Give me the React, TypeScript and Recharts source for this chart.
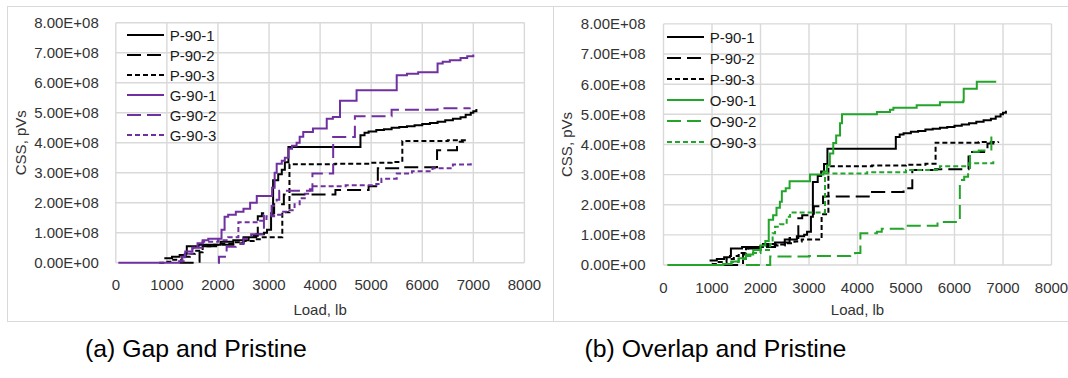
import React from "react";
import { LineChart, Line, XAxis, YAxis, CartesianGrid, Legend, Label } from "recharts";

// [load (lb), CSS (x1E+08 pVs)] step points
const P_90_1: [number, number][] = [
  [950, 0.15], [1100, 0.2], [1250, 0.26], [1370, 0.3], [1390, 0.55], [1620, 0.6], [2050, 0.7],
  [2300, 0.75], [2500, 0.85], [2750, 0.95], [2900, 1.0], [2960, 1.1], [3040, 1.6], [3080, 2.75],
  [3180, 2.95], [3250, 3.1], [3310, 3.35], [3380, 3.86], [4790, 4.25], [4870, 4.33], [4950, 4.37],
  [5100, 4.42], [5250, 4.45], [5400, 4.5], [5550, 4.52], [5700, 4.55], [5850, 4.58], [6000, 4.62],
  [6150, 4.66], [6300, 4.7], [6450, 4.75], [6600, 4.8], [6750, 4.85], [6850, 4.93], [6950, 5.0],
  [7000, 5.05], [7060, 5.12],
];
const P_90_2: [number, number][] = [
  [1250, 0], [1600, 0.03], [1640, 0.35], [1700, 0.55], [2000, 0.6], [2300, 0.65], [2500, 0.75],
  [2600, 0.9], [2780, 1.55], [2860, 1.65], [3100, 1.95], [3290, 2.27], [4300, 2.42], [4950, 2.55],
  [5130, 3.15], [5600, 3.18], [6290, 3.75], [6680, 4.03], [6800, 4.05],
];
const P_90_3: [number, number][] = [
  [850, 0], [950, 0.03], [1100, 0.1], [1300, 0.2], [1450, 0.3], [1550, 0.4], [1700, 0.55],
  [1850, 0.6], [2000, 0.63], [2300, 0.68], [2500, 0.72], [2700, 0.78], [2850, 0.85], [3260, 1.68],
  [3400, 3.28], [4300, 3.3], [5000, 3.33], [5400, 3.36], [5610, 4.06], [6500, 4.08], [6900, 4.1],
];
const G_90_1: [number, number][] = [
  [50, 0], [1240, 0.05], [1300, 0.2], [1360, 0.37], [1500, 0.5], [1600, 0.65], [1700, 0.75],
  [1810, 0.8], [2070, 1.1], [2130, 1.53], [2200, 1.6], [2350, 1.7], [2500, 1.8], [2630, 2.0],
  [2760, 2.22], [3060, 2.5], [3110, 3.0], [3150, 3.3], [3250, 3.4], [3310, 3.5], [3380, 3.8],
  [3450, 3.9], [3540, 4.0], [3600, 4.2], [3670, 4.36], [3860, 4.47], [4130, 4.8], [4250, 4.86],
  [4390, 5.4], [4714, 5.75], [5500, 6.25], [5700, 6.3], [5920, 6.35], [6300, 6.64], [6400, 6.7],
  [6540, 6.75], [6750, 6.82], [6880, 6.88], [7000, 6.94],
];
const G_90_2: [number, number][] = [
  [2000, 0], [2020, 0.2], [2170, 0.53], [2350, 0.62], [2500, 0.8], [2650, 0.95], [2900, 1.6],
  [3050, 1.9], [3150, 2.1], [3200, 2.4], [3850, 2.97], [4256, 4.19], [4681, 4.88], [5400, 5.1],
  [6300, 5.15], [6930, 5.17],
];
const G_90_3: [number, number][] = [
  [1250, 0.05], [1350, 0.3], [1500, 0.5], [1700, 0.7], [2000, 0.75], [2200, 0.85], [2400, 1.35],
  [2800, 1.4], [2950, 1.55], [3100, 1.6], [3250, 1.7], [3400, 1.75], [3500, 1.95], [3600, 2.15],
  [3700, 2.3], [3800, 2.45], [3870, 2.55], [4500, 2.58], [5100, 2.62], [5200, 2.8], [5500, 2.97],
  [5800, 3.05], [6200, 3.15], [6600, 3.27], [6950, 3.4],
];
const O_90_1: [number, number][] = [
  [80, 0], [1230, 0.03], [1400, 0.12], [1550, 0.22], [1700, 0.35], [1850, 0.5], [2000, 0.65],
  [2100, 0.8], [2170, 1.5], [2260, 1.65], [2330, 1.9], [2400, 2.1], [2440, 2.45], [2520, 2.55],
  [2600, 2.78], [3020, 3.0], [3300, 3.1], [3370, 3.3], [3430, 3.7], [3500, 4.05], [3560, 4.3],
  [3640, 4.7], [3680, 5.0], [4400, 5.08], [4670, 5.15], [4740, 5.22], [5220, 5.3], [5700, 5.4],
  [6180, 5.45], [6190, 5.85], [6460, 6.08], [6860, 6.08],
];
const O_90_2: [number, number][] = [
  [1700, 0], [2200, 0.28], [3000, 0.3], [3850, 0.33], [3950, 0.4], [4060, 1.05], [4400, 1.1],
  [4500, 1.2], [4950, 1.3], [5650, 1.43], [6110, 2.82], [6200, 2.93], [6280, 3.15], [6320, 3.76],
  [6500, 3.8], [6760, 4.3],
];
const O_90_3: [number, number][] = [
  [1230, 0.03], [1400, 0.1], [1550, 0.2], [1700, 0.3], [1790, 0.4], [2000, 0.5], [2200, 0.7],
  [2250, 1.05], [2300, 1.27], [2400, 1.35], [2540, 1.6], [2610, 1.74], [3330, 3.04], [4200, 3.08],
  [5000, 3.15], [5700, 3.28], [6300, 3.38], [6800, 3.45],
];

const loadTicks = [0, 1000, 2000, 3000, 4000, 5000, 6000, 7000, 8000];
const cssTicks = [0, 1, 2, 3, 4, 5, 6, 7, 8];

const BLACK = "#000000";
const PURPLE = "#7030A0";
const GREEN = "#22A52A";
const LONG = "14 6";
const SHORT = "5 3";
const FONT = "'Liberation Sans', Arial, sans-serif";

type Series = { name: string; pts: [number, number][]; color: string; dash?: string };

const gapSeries: Series[] = [
  { name: "P-90-1", pts: P_90_1, color: BLACK },
  { name: "P-90-2", pts: P_90_2, color: BLACK, dash: LONG },
  { name: "P-90-3", pts: P_90_3, color: BLACK, dash: SHORT },
  { name: "G-90-1", pts: G_90_1, color: PURPLE },
  { name: "G-90-2", pts: G_90_2, color: PURPLE, dash: LONG },
  { name: "G-90-3", pts: G_90_3, color: PURPLE, dash: SHORT },
];

const overlapSeries: Series[] = [
  { name: "P-90-1", pts: P_90_1, color: BLACK },
  { name: "P-90-2", pts: P_90_2, color: BLACK, dash: LONG },
  { name: "P-90-3", pts: P_90_3, color: BLACK, dash: SHORT },
  { name: "O-90-1", pts: O_90_1, color: GREEN },
  { name: "O-90-2", pts: O_90_2, color: GREEN, dash: LONG },
  { name: "O-90-3", pts: O_90_3, color: GREEN, dash: SHORT },
];

const toRows = (pts: [number, number][]) => pts.map(([load, css]) => ({ load, css }));
const fmtCss = (v: number) => (v === 0 ? "0.00E+00" : `${v.toFixed(2)}E+08`);

const LegendBox = ({ series, rowH }: { series: Series[]; rowH: number }) => (
  <div style={{ fontFamily: FONT, fontSize: 15, color: "#1a1a1a" }}>
    {series.map((s) => (
      <div key={s.name} style={{ display: "flex", alignItems: "center", height: rowH }}>
        <svg width={37} height={4} style={{ display: "block" }}>
          <line x1={0} y1={2} x2={37} y2={2} stroke={s.color} strokeWidth={2} strokeDasharray={s.dash} />
        </svg>
        <span style={{ marginLeft: 6, lineHeight: "15px" }}>{s.name}</span>
      </div>
    ))}
  </div>
);

type PanelProps = {
  series: Series[];
  left: number;
  width: number;
  margin: { top: number; right: number; bottom: number; left: number };
  yWidth: number;
  xHeight: number;
  xLabelOffset: number;
  yLabelOffset: number;
  yTickMargin: number;
  legendLeft: number;
  legendTop: number;
  legendRow: number;
};

const Panel = (p: PanelProps) => (
  <LineChart
    width={p.width}
    height={330}
    margin={p.margin}
    style={{ position: "absolute", left: p.left, top: 0, fontFamily: FONT }}
  >
    <CartesianGrid stroke="#D9D9D9" strokeWidth={1.4} />
    <XAxis
      type="number"
      dataKey="load"
      domain={[0, 8000]}
      ticks={loadTicks}
      interval={0}
      height={p.xHeight}
      axisLine={false}
      tickLine={false}
      tickMargin={11}
      tick={{ fontSize: 15, fill: "#333333" }}
    >
      <Label value="Load, lb" position="insideBottom" offset={p.xLabelOffset} fontSize={15} fill="#333333" />
    </XAxis>
    <YAxis
      type="number"
      domain={[0, 8]}
      ticks={cssTicks}
      interval={0}
      width={p.yWidth}
      axisLine={false}
      tickLine={false}
      tickMargin={p.yTickMargin}
      tickFormatter={fmtCss}
      tick={{ fontSize: 15, fill: "#333333" }}
    >
      <Label
        value="CSS, pVs"
        angle={-90}
        position="insideLeft"
        offset={p.yLabelOffset}
        fontSize={15}
        fill="#333333"
        style={{ textAnchor: "middle" }}
      />
    </YAxis>
    <Legend
      layout="vertical"
      align="center"
      verticalAlign="middle"
      wrapperStyle={{ left: p.legendLeft, top: p.legendTop, width: 110, height: "auto" }}
      content={() => <LegendBox series={p.series} rowH={p.legendRow} />}
    />
    {p.series.map((s) => (
      <Line
        key={s.name}
        name={s.name}
        data={toRows(s.pts)}
        dataKey="css"
        type="stepAfter"
        stroke={s.color}
        strokeWidth={2}
        strokeDasharray={s.dash}
        dot={false}
        activeDot={false}
        isAnimationActive={false}
      />
    ))}
  </LineChart>
);

const captionStyle: React.CSSProperties = {
  position: "absolute",
  fontFamily: FONT,
  fontSize: 24.8,
  lineHeight: "24.8px",
  color: "#000000",
  whiteSpace: "nowrap",
};

export default function App() {
  return (
    <div
      style={{
        position: "absolute",
        left: 0,
        top: 0,
        width: 1068,
        height: 378,
        background: "#ffffff",
        overflow: "hidden",
      }}
    >
      <div style={{ position: "absolute", left: 7, top: 6, width: 547, height: 316, border: "1px solid #D9D9D9", boxSizing: "border-box" }} />
      <div style={{ position: "absolute", left: 553, top: 6, width: 530, height: 316, border: "1px solid #D9D9D9", boxSizing: "border-box" }} />
      <Panel
        series={gapSeries}
        left={0}
        width={545}
        margin={{ top: 22.7, right: 20.6, bottom: 7.3, left: 10 }}
        yWidth={105.8}
        xHeight={60}
        xLabelOffset={7.7}
        yLabelOffset={10.7}
        yTickMargin={11}
        legendLeft={126.7}
        legendTop={25}
        legendRow={20}
      />
      <Panel
        series={overlapSeries}
        left={545}
        width={523}
        margin={{ top: 23.9, right: 16.5, bottom: 8, left: 10 }}
        yWidth={108.5}
        xHeight={57}
        xLabelOffset={7}
        yLabelOffset={12}
        yTickMargin={12}
        legendLeft={121.7}
        legendTop={26.5}
        legendRow={21}
      />
      <div style={{ ...captionStyle, left: 85, top: 337 }}>(a) Gap and Pristine</div>
      <div style={{ ...captionStyle, left: 584.5, top: 337 }}>(b) Overlap and Pristine</div>
    </div>
  );
}
